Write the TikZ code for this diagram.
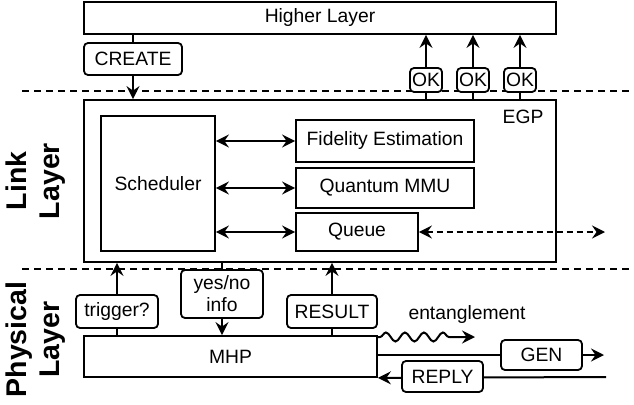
\documentclass[tikz,border=0pt]{standalone}
\usepackage{fontspec}
\setmainfont{Liberation Sans}
\usetikzlibrary{arrows.meta,decorations.pathmorphing,backgrounds}
\begin{document}
\begin{tikzpicture}[x=1pt,y=-1pt, line width=2pt,
  font=\fontsize{19.3}{22}\selectfont,
  box/.style={draw, inner sep=0pt, line width=1.8pt},
  lbl/.style={draw, rounded corners=4pt, inner sep=0pt, fill=white, line width=1.8pt},
  arr/.style={line width=2pt, -{Stealth[length=13pt,width=13pt,inset=4.5pt]}},
  darr/.style={line width=2pt, {Stealth[length=13pt,width=13pt,inset=4.5pt]}-{Stealth[length=13pt,width=13pt,inset=4.5pt]}},
  sepline/.style={dash pattern=on 7pt off 5pt, line width=1.8pt},
  dline/.style={dash pattern=on 6pt off 4pt},
  layer/.style={font=\fontsize{28.5}{33}\selectfont\bfseries, rotate=90, align=center}]
\useasboundingbox (0,0) rectangle (634,404);

% main boxes
\node[box, minimum width=472, minimum height=32] (HL) at (320,18) {Higher Layer};
\node[box, minimum width=472, minimum height=162] (EGP) at (320,181) {};
\node (egplabel) at (523,117) {EGP};
\node[box, minimum width=114, minimum height=135] (sched) at (158,183.5) {Scheduler};
\node[box, minimum width=178, minimum height=42] (fid) at (385,141) {Fidelity Estimation};
\node[box, minimum width=178, minimum height=40] (qmmu) at (385,188) {Quantum MMU};
\node[box, minimum width=122, minimum height=38] (queue) at (357,232) {Queue};
\node[box, minimum width=293, minimum height=41] (MHP) at (230.5,356.5) {MHP};

% message labels
\node[lbl, minimum width=98, minimum height=32] (create) at (133,59) {CREATE};
\node[lbl, minimum width=32, minimum height=24] (ok1) at (426,80) {OK};
\node[lbl, minimum width=32, minimum height=24] (ok2) at (473,80) {OK};
\node[lbl, minimum width=32, minimum height=24] (ok3) at (520,80) {OK};
\node[lbl, minimum width=82, minimum height=33] (trig) at (117,311.5) {trigger?};
\node[lbl, minimum width=82, minimum height=48, align=center] (yn) at (222,294) {yes/no\\info};
\node[lbl, minimum width=90, minimum height=33] (res) at (332,311.5) {RESULT};
\node[lbl, minimum width=81, minimum height=30] (gen) at (541.5,355) {GEN};
\node[lbl, minimum width=81, minimum height=31] (reply) at (442.5,376.5) {REPLY};
\node (ent) at (467,315) {entanglement};

% layer titles
\node[layer] (ll) at (36,181) {Link\\Layer};
\node[layer] (pl) at (36,339.5) {Physical\\Layer};

% free ends
\coordinate (s1a) at (22,91);
\coordinate (s1b) at (630,91);
\coordinate (s2a) at (22,269);
\coordinate (s2b) at (630,269);
\coordinate (qend) at (605,232);
\coordinate (entstart) at (377,337);
\coordinate (entend) at (475,337);
\coordinate (genend) at (604,355);
\coordinate (replystart) at (606,377);

\begin{pgfonlayer}{background}
\draw[sepline] (s1a) -- (s1b);
\draw[sepline] (s2a) -- (s2b);
\draw[arr] (create.center |- HL.south) -- (create.center |- EGP.north);
\draw[arr] (ok1.center |- EGP.north) -- (ok1.center |- HL.south);
\draw[arr] (ok2.center |- EGP.north) -- (ok2.center |- HL.south);
\draw[arr] (ok3.center |- EGP.north) -- (ok3.center |- HL.south);
\draw[darr] (sched.east |- fid.west) -- (fid.west);
\draw[darr] (sched.east |- qmmu.west) -- (qmmu.west);
\draw[darr] (sched.east |- queue.west) -- (queue.west);
\draw[darr, dline] (queue.east) -- (qend);
\draw[arr] (trig.center |- MHP.north) -- (trig.center |- EGP.south);
\draw[arr] (yn.center |- EGP.south) -- (yn.center |- MHP.north);
\draw[arr] (res.center |- MHP.north) -- (res.center |- EGP.south);
\draw[arr, decorate, decoration={snake, amplitude=4.5pt, segment length=19pt, pre length=3pt, post length=18pt}] (entstart) -- (entend);
\draw[arr] (MHP.east |- gen.west) -- (genend);
\draw[arr] (replystart) -- (MHP.south east);
\end{pgfonlayer}
\end{tikzpicture}
\end{document}
